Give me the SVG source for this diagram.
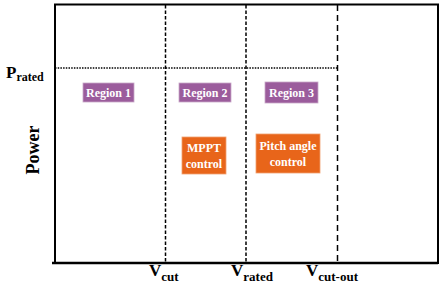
<svg xmlns="http://www.w3.org/2000/svg" width="445" height="286" viewBox="0 0 445 286">
<style>
.t{font-family:"Liberation Serif","Times New Roman",serif;font-weight:bold;fill:#000}
.w{font-family:"Liberation Serif","Times New Roman",serif;font-weight:bold;fill:#fff;font-size:12px;text-anchor:middle}
.reg{fill:#9B5C9C;stroke:#c9a8c9;stroke-width:0.8}
.ctl{fill:#E8651A;stroke:#f0a070;stroke-width:0.8}
</style>
<rect width="445" height="286" fill="#fff"/>
<g id="frame" fill="none" stroke="#000">
<rect x="55" y="4.5" width="383" height="258.5" stroke-width="2"/>
<line x1="52" y1="263" x2="438" y2="263" stroke-width="2.5"/>
</g>
<g id="connectors" fill="none" stroke="#000">
<line x1="55" y1="68" x2="337.5" y2="68" stroke-width="1.5" stroke-dasharray="1.5,1.2"/>
<line x1="165.5" y1="5" x2="165.5" y2="263" stroke-width="1.5" stroke-dasharray="3.5,2"/>
<line x1="246" y1="5" x2="246" y2="263" stroke-width="1.5" stroke-dasharray="3.5,2"/>
<line x1="337.5" y1="5" x2="337.5" y2="263" stroke-width="1.5" stroke-dasharray="6,4"/>
</g>
<g id="region1"><rect class="reg" x="83" y="83" width="51" height="19"/><text class="w" x="108.5" y="97">Region 1</text></g>
<g id="region2"><rect class="reg" x="179" y="83" width="52" height="19"/><text class="w" x="205" y="97">Region 2</text></g>
<g id="region3"><rect class="reg" x="265" y="82" width="53" height="21"/><text class="w" x="291.5" y="97">Region 3</text></g>
<g id="mppt"><rect class="ctl" x="182" y="137" width="44" height="37"/><text class="w" x="204" y="152">MPPT</text><text class="w" x="204" y="168">control</text></g>
<g id="pitch"><rect class="ctl" x="256" y="134" width="64" height="39"/><text class="w" x="288" y="150">Pitch angle</text><text class="w" x="288" y="166">control</text></g>
<g id="labels">
<text class="t" x="6" y="78" font-size="17">P<tspan font-size="12" dy="3">rated</tspan></text>
<text class="t" transform="translate(39,150) rotate(-90)" font-size="18" text-anchor="middle">Power</text>
<text class="t" x="149" y="276" font-size="17">V<tspan font-size="13" dy="5">cut</tspan></text>
<text class="t" x="231" y="276" font-size="17">V<tspan font-size="13" dy="5">rated</tspan></text>
<text class="t" x="306" y="276" font-size="17">V<tspan font-size="13" dy="5">cut-out</tspan></text>
</g>
</svg>
